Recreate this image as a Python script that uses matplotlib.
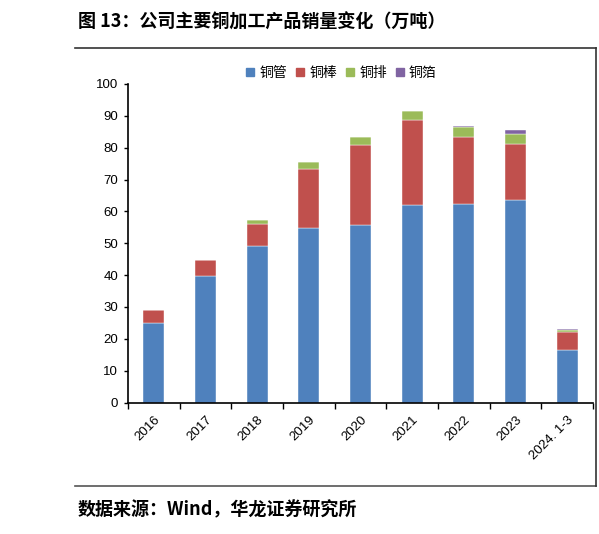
import numpy as np
import matplotlib
matplotlib.use("Agg")
import matplotlib.pyplot as plt
from matplotlib.lines import Line2D

plt.rcParams['font.family'] = ['Liberation Sans', 'Noto Sans CJK SC', 'DejaVu Sans']

# data (万吨)
years = ["2016", "2017", "2018", "2019", "2020", "2021", "2022", "2023", "2024. 1-3"]
tube = [25.0, 39.8, 49.2, 54.8, 55.6, 62.0, 62.2, 63.6, 16.6]   # 铜管
rod = [4.0, 5.0, 6.8, 18.4, 25.1, 26.8, 21.2, 17.5, 5.4]        # 铜棒
bar = [0.0, 0.0, 1.2, 2.4, 2.7, 2.8, 3.2, 3.3, 0.7]             # 铜排
foil = [0.0, 0.0, 0.0, 0.0, 0.0, 0.0, 0.3, 1.2, 0.5]            # 铜箔
names = ["铜管", "铜棒", "铜排", "铜箔"]
colors = ["#4F81BD", "#C0504D", "#9BBB59", "#8064A2"]

fig = plt.figure(figsize=(5.99, 5.34), dpi=100)
W, H = 599, 534

ax = fig.add_axes([128 / W, 1 - 402.5 / H, (593 - 128) / W, (402.5 - 84) / H])

x = np.arange(len(years))
bottom = np.zeros(len(years))
for vals, c, n in zip([tube, rod, bar, foil], colors, names):
    ax.bar(x, vals, width=0.41, bottom=bottom, color=c, edgecolor="white",
           linewidth=0.3, label=n, zorder=2)
    bottom += np.array(vals)

ax.set_xlim(-0.5, len(years) - 0.5)
ax.set_ylim(0, 100)
ax.set_yticks(range(0, 101, 10))
ax.tick_params(axis="y", labelsize=9.5, direction="out", length=3, width=1, pad=4)
ax.set_xticks(x)
ax.set_xticklabels(years, rotation=45, ha="right", rotation_mode="anchor", fontsize=9.5)
ax.tick_params(axis="x", length=0, pad=8)
# ticks at category boundaries
ax.set_xticks(np.arange(-0.5, len(years), 1.0), minor=True)
ax.tick_params(axis="x", which="minor", direction="out", length=4, width=1)
for s in ["top", "right"]:
    ax.spines[s].set_visible(False)
for s in ["left", "bottom"]:
    ax.spines[s].set_linewidth(1.2)
    ax.spines[s].set_color("black")

handles = [Line2D([], [], marker="s", linestyle="none", color=c, markersize=5.5) for c in colors]
fig.legend(handles, names, loc="center", bbox_to_anchor=(341 / W, 1 - 73 / H), ncol=4,
           frameon=False, handlelength=0.7, handletextpad=0.3, columnspacing=0.6,
           prop={"family": ["Noto Sans CJK SC"], "size": 10})

# title, footer and frame lines
fig.text(78 / W, 1 - 22 / H, "图 13：公司主要铜加工产品销量变化（万吨）", fontsize=13,
         fontweight="bold", family=["Noto Sans CJK SC", "DejaVu Sans"], va="center", ha="left")
fig.text(78 / W, 1 - 510 / H, "数据来源：Wind，华龙证券研究所", fontsize=13,
         fontweight="bold", family=["Noto Sans CJK SC", "DejaVu Sans"], va="center", ha="left")
fig.add_artist(Line2D([75 / W, 596 / W], [1 - 48 / H, 1 - 48 / H], color="#333333", lw=1.2))
fig.add_artist(Line2D([75 / W, 596 / W], [1 - 486 / H, 1 - 486 / H], color="#555555", lw=1.2))
fig.add_artist(Line2D([596 / W, 596 / W], [1 - 48 / H, 1 - 486 / H], color="#333333", lw=1.2))

fig.savefig("out.png", dpi=100)
